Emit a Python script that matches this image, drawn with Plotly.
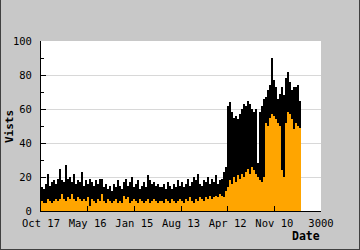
import plotly.graph_objects as go

# ---- data (one value per ~21.4-day bin) ----
BIN_DAYS = 3000 / 140

black_vals = [
    # Oct 17 .. May 16
    14, 13, 16, 22, 15, 17, 18, 16, 19, 25, 18, 17, 27, 19, 20, 17, 22, 16, 18, 17, 23, 15, 18, 16, 19, 17, 15, 18, 16, 19,
    # May 16 .. Jan 15
    19, 14, 16, 13, 15, 12, 16, 14, 18, 15, 13, 17, 19, 15, 17, 20, 14, 16, 18, 13, 15, 17, 14, 21, 18, 16, 17, 15, 16, 14,
    # Jan 15 .. Apr 12
    14, 16, 13, 17, 15, 13, 16, 14, 18, 15, 17, 14, 16, 19, 15, 17, 20, 18, 22, 16, 15, 18, 17, 20, 16, 19, 17, 21, 16, 18, 19, 23, 26,
    # Apr 12 ..
    62, 64, 58, 55, 56, 54, 57, 60, 63, 62, 65, 63, 60, 58, 60, 28, 58, 62, 66,
    67, 71, 74, 90, 77, 73, 66, 69, 73, 68, 78, 82, 76, 71, 73, 73, 74, 65,
]

orange_vals = [
    6, 5, 5, 7, 6, 5, 6, 7, 6, 7, 10, 7, 6, 8, 7, 10, 7, 6, 8, 7, 6, 7, 6, 8, 3, 7, 6, 5, 7, 6,
    10, 6, 5, 7, 6, 5, 6, 7, 5, 6, 5, 9, 7, 8, 5, 6, 7, 6, 5, 7, 6, 5, 6, 7, 5, 6, 7, 6, 5, 6,
    6, 5, 7, 6, 5, 7, 6, 5, 6, 7, 6, 5, 7, 6, 8, 6, 5, 7, 6, 8, 7, 6, 8, 7, 9, 7, 8, 9, 8, 10, 9, 8, 12,
    14, 18, 16, 20, 17, 21, 19, 22, 20, 23, 25, 22, 26, 24, 22, 20, 18, 17, 20,
    52, 50, 55, 57, 56, 54, 52, 50, 24, 20, 52, 58, 57, 54, 48, 52, 50, 49,
]

x_tick_vals = [0, 500, 1000, 1500, 2000, 2500, 3000]
x_tick_text = ["Oct 17", "May 16", "Jan 15", "Aug 13", "Apr 12", "Nov 10", "3000"]

days = [i * BIN_DAYS + BIN_DAYS / 2 for i in range(len(black_vals))]

FONT = "DejaVu Sans Mono"

fig = go.Figure()
fig.add_trace(go.Bar(x=days, y=black_vals, width=BIN_DAYS, marker=dict(color="#000000", line=dict(width=0)),
                     hoverinfo="skip"))
fig.add_trace(go.Bar(x=days, y=orange_vals, width=BIN_DAYS, marker=dict(color="#ffa500", line=dict(width=0)),
                     hoverinfo="skip"))

fig.update_layout(
    width=360, height=250,
    margin=dict(l=41, r=39, t=41, b=39, pad=0),
    paper_bgcolor="#c8c8c8",
    plot_bgcolor="#ffffff",
    barmode="overlay",
    bargap=0,
    showlegend=False,
    font=dict(family=FONT, size=10.5, color="#000000"),
)

fig.update_xaxes(
    range=[0, 3000],
    tickmode="array", tickvals=x_tick_vals, ticktext=x_tick_text,
    showgrid=False, zeroline=False,
    showline=True, linecolor="#000000", linewidth=1,
    ticks="inside", ticklen=5, tickcolor="#000000", tickwidth=1,
    ticklabelstandoff=2,
)
fig.update_yaxes(
    range=[0, 100], dtick=20,
    showgrid=True, gridcolor="#d8d8d8", gridwidth=1,
    zeroline=False,
    showline=True, linecolor="#000000", linewidth=1,
    ticks="inside", ticklen=5, tickcolor="#000000", tickwidth=1,
    minor=dict(dtick=10, ticks="inside", ticklen=3, tickcolor="#000000", showgrid=False),
    ticklabelstandoff=6,
)

fig.add_annotation(text="<b>Date</b>", xref="paper", yref="paper",
                   x=(305.5 - 41) / 280, y=(211 - 235.7) / 170,
                   showarrow=False, font=dict(family=FONT, size=11.5), xanchor="center", yanchor="middle")
fig.add_annotation(text="<b>Vists</b>", xref="paper", yref="paper",
                   x=(9 - 41) / 280, y=(211 - 127) / 170, textangle=-90,
                   showarrow=False, font=dict(family=FONT, size=11), xanchor="center", yanchor="middle")

# thin dark frame around the image (left, right, bottom)
px = lambda p: (p - 41) / 280
py = lambda p: (211 - p) / 170
for x0, y0, x1, y1 in [(0.5, 0, 0.5, 250), (359.5, 0, 359.5, 250), (0, 249.5, 360, 249.5)]:
    fig.add_shape(type="line", xref="paper", yref="paper",
                  x0=px(x0), y0=py(y0), x1=px(x1), y1=py(y1),
                  line=dict(color="#404040", width=1))

fig.write_html("out.html")
